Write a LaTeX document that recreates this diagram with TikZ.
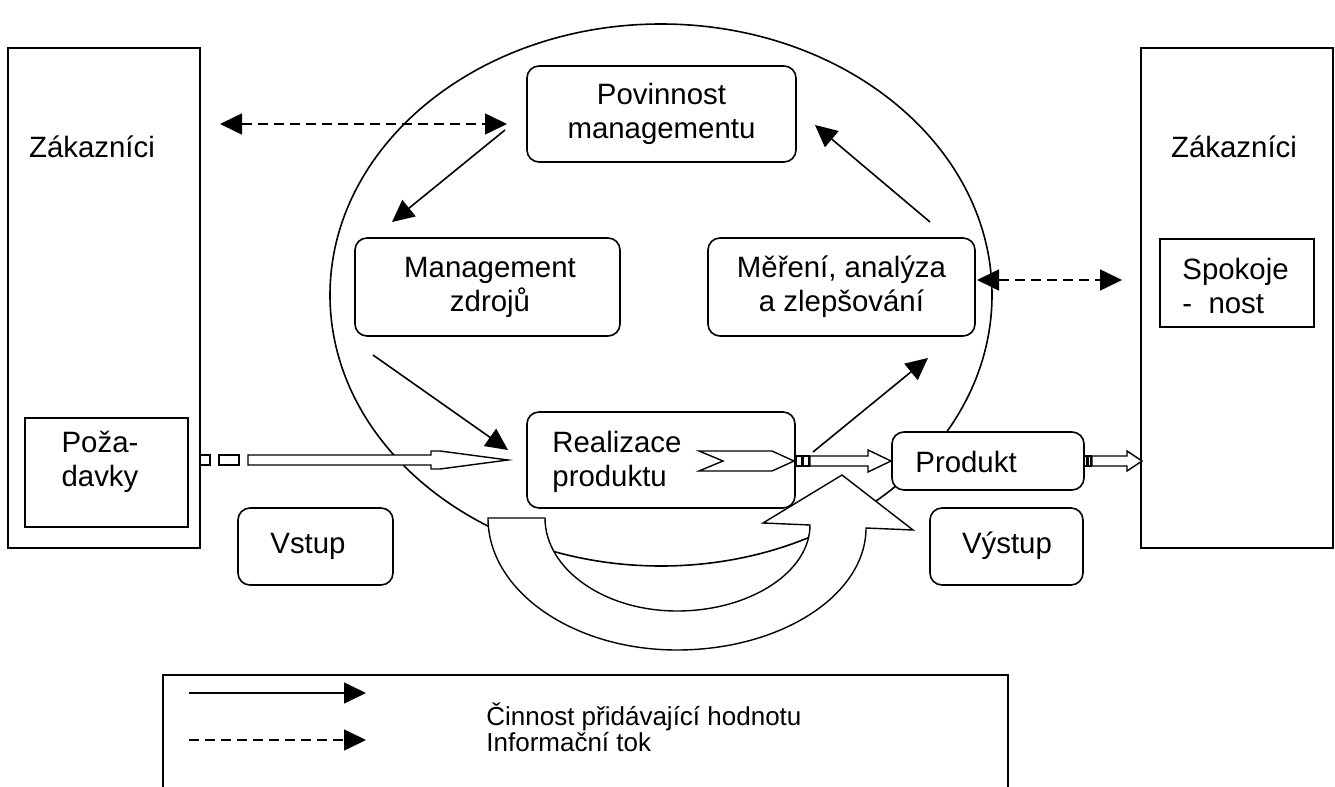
\documentclass[tikz,border=0pt]{standalone}
\usepackage{fontspec}
\setmainfont{Liberation Sans}
\usetikzlibrary{arrows.meta,shapes.geometric}
\begin{document}
\begin{tikzpicture}[x=0.5pt,y=-0.5pt,
  font=\fontsize{14.7}{17}\selectfont,
  sqbox/.style={draw,line width=0.8pt,fill=white,inner sep=0pt},
  rbox/.style={sqbox,rounded corners=6pt},
  lbl/.style={inner sep=0pt,align=center},
  lbll/.style={inner sep=0pt,align=left,anchor=west},
  tipT/.style={},
  solidarr/.style={line width=0.8pt,-{Triangle[length=11pt,width=10.5pt]}},
  dasharr/.style={line width=0.8pt,dash pattern=on 5pt off 3pt,{Triangle[length=11pt,width=10.5pt]}-{Triangle[length=11pt,width=10.5pt]}},
  dasharrone/.style={line width=0.8pt,dash pattern=on 5pt off 3pt,-{Triangle[length=11pt,width=10.5pt]}},
  blockarr/.style={draw,line width=0.7pt,fill=white,line join=miter}]
\useasboundingbox (0,0) rectangle (1335,787);
\fill[white] (0,0) rectangle (1335,787);

% central cycle
\node[draw,ellipse,line width=0.8pt,minimum width=331pt,minimum height=271pt,inner sep=0pt] (cyc) at (661,295) {};

% customers left
\node[sqbox,minimum width=96pt,minimum height=250pt] (custL) at (104,298) {};
\node[lbl] (custLt) at (92,147) {Zákazníci};
\node[sqbox,minimum width=81.5pt,minimum height=54.5pt] (poz) at (106.5,472.5) {};
\node[lbl] (pozt) at (100,462) {Poža-\\davky};

% customers right
\node[sqbox,minimum width=96pt,minimum height=250pt] (custR) at (1237,298) {};
\node[lbl] (custRt) at (1234,147) {Zákazníci};
\node[sqbox,minimum width=77pt,minimum height=44pt] (spok) at (1237,283) {};
\node[lbll] (spokt) at (1182,285.5) {Spokoje\\-\ \ nost};

% process boxes
\node[rbox,minimum width=134.5pt,minimum height=48pt,align=center] (pov) at (661.5,114) {Povinnost\\managementu};
\node[rbox,minimum width=132.5pt,minimum height=49pt] (mz) at (487.5,287) {};
\node[lbl] (mzt) at (490,287) {Management\\zdrojů};
\node[rbox,minimum width=133.5pt,minimum height=49pt,align=center] (mer) at (841.5,287) {Měření, analýza\\a zlepšování};
\node[rbox,minimum width=134pt,minimum height=48pt] (real) at (661,460) {};
\node[lbll] (realt) at (552,462) {Realizace\\produktu};
\node[rbox,minimum width=96pt,minimum height=29pt] (prod) at (988,461) {};
\node[lbll] (prodt) at (915,462) {Produkt};
\node[rbox,minimum width=77.5pt,minimum height=38.5pt] (vst) at (315.5,546.5) {};
\node[lbl] (vstt) at (308,546) {Vstup};
\node[rbox,minimum width=76.5pt,minimum height=38.5pt] (vys) at (1006.5,546.5) {};
\node[lbl] (vyst) at (1007,546) {Výstup};

% U-turn block arrow
\draw[blockarr] (488,518) -- (545,518)
  .. controls (545,569) and (604,611) .. (677,611)
  .. controls (750,611) and (810,572) .. (810,525)
  -- (763,523) -- (842,475) -- (913,530) -- (866,528)
  .. controls (866,595) and (781,650) .. (677,650)
  .. controls (573,650) and (488,591) .. (488,518) -- cycle;

% block arrow from requirements
\draw[blockarr] (200,455) rectangle (210,465);
\draw[blockarr] (219,455) rectangle (239,465);
\draw[blockarr] (248,455) -- (431,455) -- (431,451) -- (440,451) -- (508,460) -- (440,469) -- (431,469) -- (431,465) -- (248,465) -- cycle;

% chevron in realization and arrow to product
\draw[blockarr] (699,451) -- (772,451) -- (794,461) -- (772,471) -- (699,471) -- (723,461) -- cycle;
\draw[blockarr] (796,456) rectangle (802,466);
\draw[blockarr] (803,456) rectangle (809,466);
\draw[blockarr] (810,456) -- (868,456) -- (868,450) -- (891,461) -- (868,472) -- (868,466) -- (810,466) -- cycle;

% arrow from product to customers
\draw[blockarr] (1084,456) rectangle (1087,466);
\draw[blockarr] (1088,456) rectangle (1091,466);
\draw[blockarr] (1092,456) -- (1127,456) -- (1127,451) -- (1142,461) -- (1127,471) -- (1127,466) -- (1092,466) -- cycle;

% connector coordinates
\coordinate (d1a) at (220,124);
\coordinate (d1b) at (507,124);
\coordinate (s1a) at (505,130);
\coordinate (s1b) at (392,222);
\coordinate (s2a) at (930,222);
\coordinate (s2b) at (815,125);
\coordinate (d2a) at (977,280);
\coordinate (d2b) at (1122,280);
\coordinate (s3a) at (373,355);
\coordinate (s3b) at (508,450);
\coordinate (s4a) at (813,452);
\coordinate (s4b) at (928,358);

\draw[dasharr] (d1a) -- (d1b);
\draw[solidarr] (s1a) -- (s1b);
\draw[solidarr] (s2a) -- (s2b);
\draw[dasharr] (d2a) -- (d2b);
\draw[solidarr] (s3a) -- (s3b);
\draw[solidarr] (s4a) -- (s4b);

% legend
\draw[line width=0.8pt] (163,790) -- (163,675) -- (1008,675) -- (1008,790);
\coordinate (la1) at (189,693);
\coordinate (la2) at (366,693);
\coordinate (lb1) at (189,740);
\coordinate (lb2) at (366,740);
\draw[solidarr] (la1) -- (la2);
\draw[dasharrone] (lb1) -- (lb2);
\node[lbll,font=\fontsize{13}{13}\selectfont] (leg1) at (486,717) {Činnost přidávající hodnotu};
\node[lbll,font=\fontsize{13}{13}\selectfont] (leg2) at (486,742) {Informační tok};
\end{tikzpicture}
\end{document}
